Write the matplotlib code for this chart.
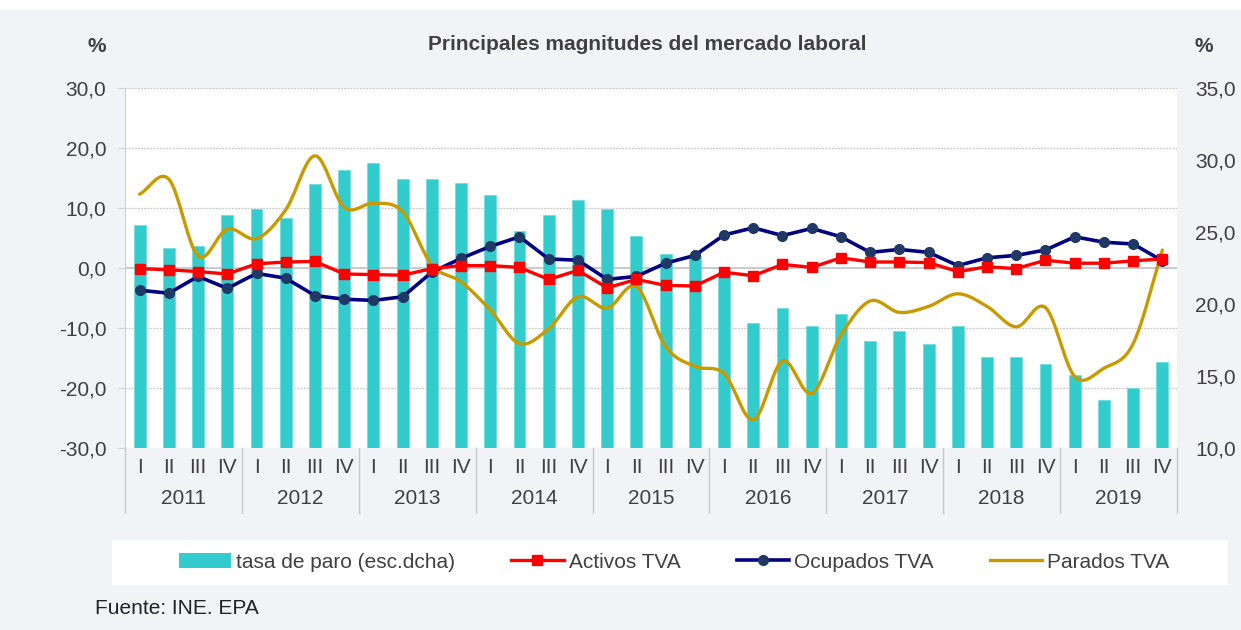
import numpy as np
import matplotlib.pyplot as plt
from matplotlib.transforms import blended_transform_factory
from matplotlib.patches import Patch
from matplotlib.lines import Line2D

plt.rcParams['font.family'] = ['Liberation Sans', 'DejaVu Sans']

years = ['2011', '2012', '2013', '2014', '2015', '2016', '2017', '2018', '2019']
quarters = ['I', 'II', 'III', 'IV']

# tasa de paro, right axis (%)
tasa_paro = [25.5, 23.9, 24.0, 26.2, 26.6, 26.0, 28.3, 29.3,
             29.8, 28.7, 28.7, 28.4, 27.6, 25.1, 26.2, 27.2,
             26.6, 24.7, 23.5, 23.3, 22.2, 18.7, 19.7, 18.5,
             19.3, 17.4, 18.1, 17.2, 18.5, 16.3, 16.3, 15.8,
             15.1, 13.3, 14.2, 16.0]

# variaciones anuales, left axis (%)
activos = [-0.1, -0.3, -0.6, -1.0, 0.7, 1.0, 1.1, -1.0,
           -1.1, -1.2, -0.1, 0.4, 0.4, 0.1, -1.9, -0.4,
           -3.3, -1.9, -2.9, -3.0, -0.7, -1.3, 0.6, 0.1,
           1.7, 1.0, 1.0, 0.9, -0.6, 0.2, -0.1, 1.3,
           0.8, 0.8, 1.2, 1.5]

ocupados = [-3.7, -4.2, -1.4, -3.4, -0.9, -1.7, -4.6, -5.2,
            -5.4, -4.8, -0.7, 1.6, 3.6, 5.2, 1.5, 1.3,
            -1.9, -1.4, 0.8, 2.1, 5.5, 6.7, 5.4, 6.6,
            5.2, 2.6, 3.1, 2.6, 0.4, 1.7, 2.1, 3.0,
            5.2, 4.3, 4.0, 1.2]

parados = [12.3, 14.8, 2.0, 6.5, 4.9, 9.7, 18.7, 10.1,
           10.8, 9.4, 0.5, -2.3, -7.0, -12.6, -10.1, -4.8,
           -6.7, -3.1, -13.1, -16.4, -17.6, -25.3, -15.5, -20.9,
           -11.2, -5.5, -7.4, -6.4, -4.3, -6.4, -9.8, -6.6,
           -18.1, -16.7, -12.6, 3.0]

BG = '#f2f3f7'
TXT = '#404040'
FS = 15


def smooth(x, y, n=20):
    # catmull-rom curve like the excel "smoothed line"
    x = np.asarray(x, float)
    y = np.asarray(y, float)
    px = np.concatenate([[2 * x[0] - x[1]], x, [2 * x[-1] - x[-2]]])
    py = np.concatenate([[2 * y[0] - y[1]], y, [2 * y[-1] - y[-2]]])
    xs, ys = [], []
    t = np.linspace(0, 1, n, endpoint=False)
    for i in range(1, len(px) - 2):
        for p, out in ((px, xs), (py, ys)):
            p0, p1, p2, p3 = p[i - 1], p[i], p[i + 1], p[i + 2]
            out.extend(0.5 * (2 * p1 + (-p0 + p2) * t
                              + (2 * p0 - 5 * p1 + 4 * p2 - p3) * t ** 2
                              + (-p0 + 3 * p1 - 3 * p2 + p3) * t ** 3))
    xs.append(x[-1])
    ys.append(y[-1])
    return np.array(xs), np.array(ys)


fig = plt.figure(figsize=(12.41, 6.30), dpi=100, facecolor=BG)
fig.patches.append(plt.Rectangle((0, 1 - 10 / 630), 1, 10 / 630, transform=fig.transFigure,
                                 facecolor='white', edgecolor='none'))
# legend box
fig.patches.append(plt.Rectangle((112 / 1241, 1 - 585 / 630), 1116 / 1241, 45 / 630,
                                 transform=fig.transFigure, facecolor='white',
                                 edgecolor='none'))

ax = fig.add_axes([125 / 1241, 1 - 448 / 630, 1052 / 1241, 360 / 630])
ax.set_facecolor('white')
n = len(tasa_paro)
x = np.arange(n)

# left axis + grid
ax.set_ylim(-30, 30)
ax.set_yticks(np.arange(-30, 31, 10))
ax.set_yticklabels([f'{v:.1f}'.replace('.', ',') for v in np.arange(-30, 31, 10)],
                   fontsize=FS, color=TXT)
ax.grid(axis='y', color='#c8c8c8', linestyle=(0, (1.5, 1)), linewidth=0.9)
ax.axhline(0, color='#c8c8c8', linewidth=1.3)
ax.set_xlim(-0.5, n - 0.5)
for s in ['top', 'right', 'bottom']:
    ax.spines[s].set_visible(False)
ax.spines['left'].set_color('#d0d0d0')
ax.tick_params(axis='y', length=5, color='#d0d0d0', pad=8.5)

ax.set_xticks(x)
ax.set_xticklabels(quarters * len(years), fontsize=FS, color=TXT)
ax.tick_params(axis='x', length=0, pad=7)

trans = blended_transform_factory(ax.transData, ax.transAxes)
sep_len = 65 / 360
for k in range(len(years) + 1):
    ax.plot([k * 4 - 0.5] * 2, [0, -sep_len], transform=trans, color='#c8c8c8',
            linewidth=1, clip_on=False)
for k, yr in enumerate(years):
    ax.text(k * 4 + 1.5, -51 / 360, yr, transform=trans, ha='center', va='center',
            fontsize=FS, color=TXT)

# bars on right axis
ax2 = ax.twinx()
ax2.bar(x, tasa_paro, width=0.41, color='#33cccc', edgecolor='#66dddd', linewidth=0.5)
ax2.set_ylim(10, 35)
ax2.set_yticks(np.arange(10, 36, 5))
ax2.set_yticklabels([f'{v:.1f}'.replace('.', ',') for v in np.arange(10, 36, 5)],
                    fontsize=FS, color=TXT)
ax2.tick_params(axis='y', length=0, pad=13)
for s in ax2.spines.values():
    s.set_visible(False)

# lines on a second twin with left scale
ax3 = ax.twinx()
ax3.set_ylim(-30, 30)
ax3.set_yticks([])
for s in ax3.spines.values():
    s.set_visible(False)
sx, sy = smooth(x, parados)
ax3.plot(sx, sy, color='#c99a00', linewidth=2.4, solid_capstyle='round')
ax3.plot(x, ocupados, color='#000080', linewidth=2.6, marker='o', markersize=7,
         markerfacecolor='#1f3864', markeredgecolor='#1f3864')
ax3.plot(x, activos, color='#ff0000', linewidth=2.4, marker='s', markersize=7,
         markerfacecolor='#ff0000', markeredgecolor='#ff0000')

# legend
handles = [Patch(facecolor='#33cccc', edgecolor='none'),
           Line2D([], [], color='#ff0000', lw=2.4, marker='s', markersize=7),
           Line2D([], [], color='#000080', lw=2.6, marker='o', markersize=7,
                  markerfacecolor='#1f3864', markeredgecolor='#1f3864'),
           Line2D([], [], color='#c99a00', lw=2.4)]
labels = ['tasa de paro (esc.dcha)', 'Activos TVA', 'Ocupados TVA', 'Parados TVA']
leg = fig.legend(handles, labels, loc='center', bbox_to_anchor=(674 / 1241, 1 - 562 / 630),
                 ncol=4, frameon=False, fontsize=FS, handlelength=2.5, handletextpad=0.25,
                 columnspacing=2.7)
for t in leg.get_texts():
    t.set_color(TXT)

fig.text(647 / 1241, 1 - 44 / 630, 'Principales magnitudes del mercado laboral',
         ha='center', va='center', fontsize=FS, fontweight='bold', color=TXT)
fig.text(97 / 1241, 1 - 47 / 630, '%', ha='center', va='center', fontsize=FS,
         fontweight='bold', color=TXT)
fig.text(1204 / 1241, 1 - 47 / 630, '%', ha='center', va='center', fontsize=FS,
         fontweight='bold', color=TXT)
fig.text(95 / 1241, 1 - 609 / 630, 'Fuente: INE. EPA', ha='left', va='center',
         fontsize=FS, color='#222222')

fig.savefig('out.png', dpi=100, facecolor=BG)
